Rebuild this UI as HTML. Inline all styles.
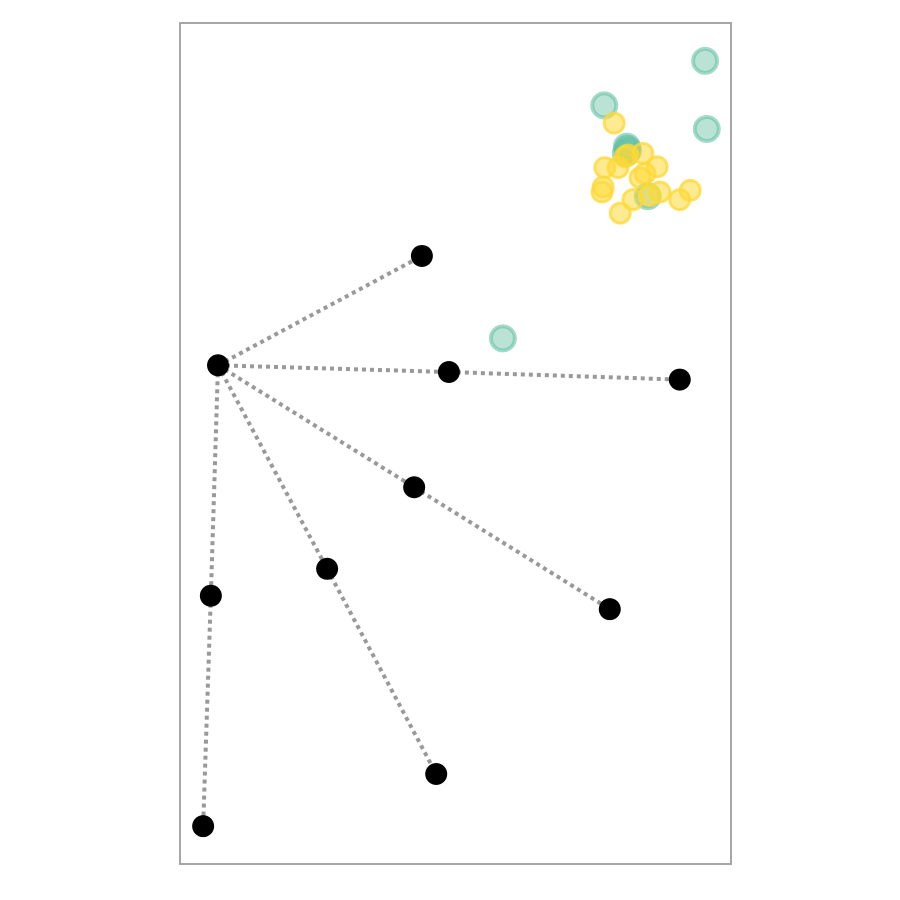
<!DOCTYPE html>
<html><head><meta charset="utf-8"><style>html,body{margin:0;padding:0;background:#fff;}svg{display:block;}</style></head>
<body>
<svg id="chart" width="900" height="900" viewBox="0 0 900 900">
<rect x="180" y="23" width="551" height="841" fill="#fff" stroke="#a6a6a6" stroke-width="2"/>
<g id="lines"></g><g id="teal"></g><g id="yellow"></g><g id="black"></g>
</svg>
<script>
const hubX = 0.69, hubY = 5.93;
const blackX = [4.39, 4.88, 9.07, 4.25, 7.80, 2.67, 4.65, 0.56, 0.42];
const blackY = [7.23, 5.85, 5.76, 4.48, 3.03, 3.51, 1.07, 3.19, 0.45];
// parent index: -1 = hub
const blackParent = [-1, -1, 1, -1, 3, -1, 5, -1, 7];
const tealX = [9.53, 7.70, 9.56, 5.86, 8.11, 8.13, 8.09, 8.12, 8.49];
const tealY = [9.55, 9.02, 8.74, 6.25, 8.53, 8.48, 8.45, 8.50, 7.94];
const yellowX = [7.88, 8.13, 8.40, 7.71, 7.95, 8.66, 8.35, 8.44, 7.68, 7.66, 8.22, 8.53, 8.71, 9.07, 9.26, 7.99, 8.08];
const yellowY = [8.81, 8.43, 8.45, 8.28, 8.28, 8.29, 8.16, 8.21, 8.05, 7.99, 7.90, 7.95, 7.99, 7.90, 8.01, 7.74, 8.41];

const sx = v => 180 + v * 55.1;
const sy = v => 864 - v * 84.1;
const NS = 'http://www.w3.org/2000/svg';
function mk(tag, parent, attrs) {
  const el = document.createElementNS(NS, tag);
  for (const k in attrs) el.setAttribute(k, attrs[k]);
  document.getElementById(parent).appendChild(el);
  return el;
}
blackX.forEach((x, i) => {
  const p = blackParent[i];
  const px = p < 0 ? hubX : blackX[p], py = p < 0 ? hubY : blackY[p];
  const el = mk('line', 'lines', {x1: sx(px), y1: sy(py), x2: sx(x), y2: sy(blackY[i]), stroke: '#999', 'stroke-width': 4, 'stroke-dasharray': '4 4'});
  
  
});
tealX.forEach((x, i) => {
  const el = mk('circle', 'teal', {cx: sx(x), cy: sy(tealY[i]), r: 12, fill: 'rgba(102,194,165,0.45)', stroke: 'rgba(102,194,165,0.6)', 'stroke-width': 4});
  
  
});
yellowX.forEach((x, i) => {
  const el = mk('circle', 'yellow', {cx: sx(x), cy: sy(yellowY[i]), r: 10, fill: 'rgba(253,216,53,0.55)', stroke: 'rgba(253,216,53,0.75)', 'stroke-width': 3});
  
  
});
const hub = mk('circle', 'black', {cx: sx(hubX), cy: sy(hubY), r: 11, fill: '#000'});


blackX.forEach((x, i) => {
  const el = mk('circle', 'black', {cx: sx(x), cy: sy(blackY[i]), r: 11, fill: '#000'});
  
  
});
</script>
</body></html>
